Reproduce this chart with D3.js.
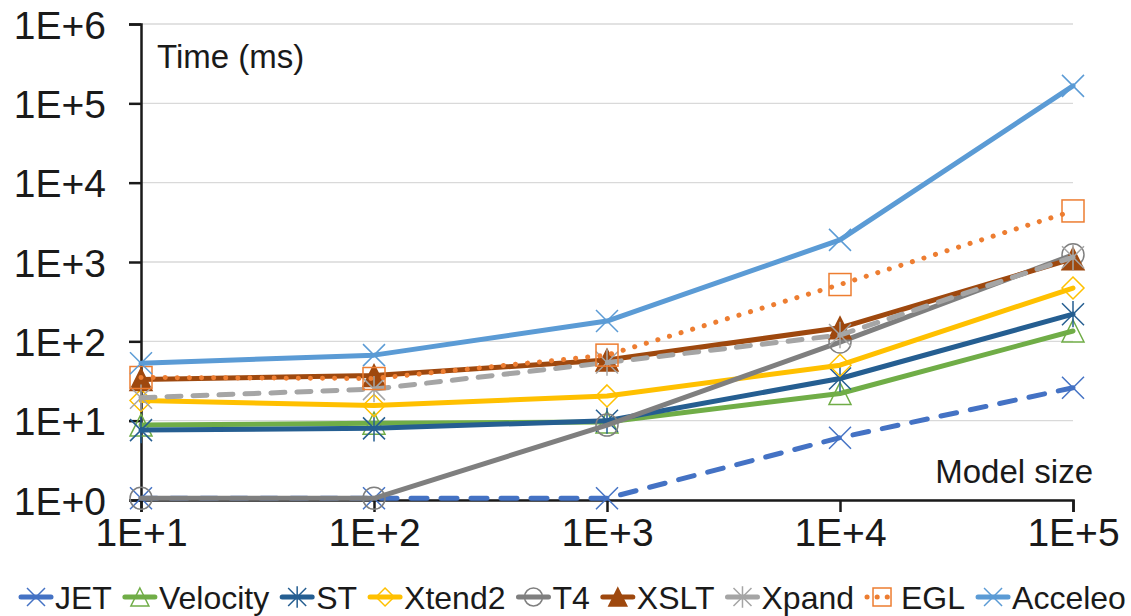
<!DOCTYPE html>
<html>
<head>
<meta charset="utf-8">
<script src="https://cdn.jsdelivr.net/npm/d3@7"></script>
<style>
  body { margin: 0; background: #fff; }
  text { font-family: "Liberation Sans", Arial, sans-serif; fill: #1a1a1a; }
</style>
</head>
<body>
<div id="chart"></div>
<script>
var svgWidth = 1131;
var svgHeight = 616;

// model sizes (x) and tick values
var modelSizes = [10, 100, 1000, 10000, 100000];
var yTicks = [1, 10, 100, 1000, 10000, 100000, 1000000];

// generation time in ms
var jet      = [1.05, 1.05, 1.05, 6.1, 26];
var velocity = [8.8, 9.3, 9.6, 22, 135];
var st       = [7.6, 8, 10, 34, 220];
var xtend2   = [18, 15.5, 20.5, 50, 470];
var t4       = [1.05, 1.05, 8.8, 98, 1230];
var xslt     = [33, 37, 58, 148, 1100];
var xpand    = [19.5, 25, 54, 120, 1150];
var egl      = [35, 34, 67, 520, 4400];
var acceleo  = [53, 67, 180, 1900, 166000];

var seriesNames = ["JET", "Velocity", "ST", "Xtend2", "T4", "XSLT", "Xpand", "EGL", "Acceleo"];
var seriesValues = [jet, velocity, st, xtend2, t4, xslt, xpand, egl, acceleo];

var styles = {
  "JET":      { color: "#4472C4", marker: "x",        dash: "16 14" },
  "Velocity": { color: "#70AD47", marker: "triangle", dash: null },
  "ST":       { color: "#255E91", marker: "star",     dash: null },
  "Xtend2":   { color: "#FFC000", marker: "diamond",  dash: null },
  "T4":       { color: "#7F7F7F", marker: "circle",   dash: null },
  "XSLT":     { color: "#9E480E", marker: "filledTri", dash: null },
  "Xpand":    { color: "#A5A5A5", marker: "star",     dash: "14 12" },
  "EGL":      { color: "#ED7D31", marker: "square",   dash: "0.1 12" },
  "Acceleo":  { color: "#5B9BD5", marker: "x",        dash: null }
};

var svg = d3.select("#chart").append("svg")
  .attr("width", svgWidth)
  .attr("height", svgHeight);

var x = d3.scaleLog().domain([10, 100000]).range([141, 1073]);
var y = d3.scaleLog().domain([1, 1000000]).range([500, 24]);

var expFormat = d => "1E+" + Math.round(Math.log10(d));

// gridlines
svg.append("g").selectAll("line")
  .data(yTicks)
  .enter().append("line")
  .attr("x1", 141).attr("x2", 1073)
  .attr("y1", d => y(d)).attr("y2", d => y(d))
  .attr("stroke", "#d9d9d9").attr("stroke-width", 1.3);

// axes
var yAxis = svg.append("g")
  .attr("transform", "translate(141,0)")
  .call(d3.axisLeft(y).tickValues(yTicks).tickFormat(expFormat).tickSize(12).tickPadding(23));
var xAxis = svg.append("g")
  .attr("transform", "translate(0,500)")
  .call(d3.axisBottom(x).tickValues(modelSizes).tickFormat(expFormat).tickSize(12).tickPadding(6));

[yAxis, xAxis].forEach(function(ax) {
  ax.select(".domain").attr("stroke", "#1a1a1a").attr("stroke-width", 2.5);
  ax.selectAll(".tick line").attr("stroke", "#1a1a1a").attr("stroke-width", 2.5);
  ax.selectAll("text").style("font-size", "39px").attr("fill", "#1a1a1a")
    .style("font-family", "'Liberation Sans', Arial, sans-serif");
});
yAxis.selectAll("text").attr("dy", "0.36em");

svg.append("text").attr("x", 157).attr("y", 68).style("font-size", "33px").text("Time (ms)");
svg.append("text").attr("x", 1093).attr("y", 483).attr("text-anchor", "end")
  .style("font-size", "33px").text("Model size");

// marker drawing
function drawMarker(g, type, color, r) {
  if (type === "x") {
    g.append("path").attr("d", `M${-r},${-r}L${r},${r}M${-r},${r}L${r},${-r}`)
      .attr("stroke", color).attr("stroke-width", 1.5).attr("fill", "none");
  } else if (type === "star") {
    g.append("path").attr("d", `M${-r},${-r}L${r},${r}M${-r},${r}L${r},${-r}M0,${-r * 1.2}L0,${r * 1.2}`)
      .attr("stroke", color).attr("stroke-width", 1.5).attr("fill", "none");
  } else if (type === "triangle" || type === "filledTri") {
    g.append("path").attr("d", `M0,${-r}L${r},${r}L${-r},${r}Z`)
      .attr("stroke", color).attr("stroke-width", 1.5)
      .attr("fill", type === "filledTri" ? color : "none");
  } else if (type === "diamond") {
    g.append("path").attr("d", `M0,${-r}L${r},0L0,${r}L${-r},0Z`)
      .attr("stroke", color).attr("stroke-width", 1.5).attr("fill", "none");
  } else if (type === "circle") {
    g.append("circle").attr("r", r).attr("stroke", color).attr("stroke-width", 1.5).attr("fill", "none");
  } else if (type === "square") {
    g.append("rect").attr("x", -r).attr("y", -r).attr("width", 2 * r).attr("height", 2 * r)
      .attr("stroke", color).attr("stroke-width", 1.5).attr("fill", "none");
  }
}

var line = d3.line()
  .x((d, i) => x(modelSizes[i]))
  .y(d => y(d));

seriesNames.forEach(function(name, si) {
  var st = styles[name];
  var g = svg.append("g").attr("class", "series");
  g.append("path")
    .attr("d", line(seriesValues[si]))
    .attr("fill", "none")
    .attr("stroke", st.color)
    .attr("stroke-width", 5)
    .attr("stroke-linecap", "round")
    .attr("stroke-linejoin", "round")
    .attr("stroke-dasharray", st.dash);
  seriesValues[si].forEach(function(v, i) {
    var m = g.append("g").attr("transform", `translate(${x(modelSizes[i])},${y(v)})`);
    drawMarker(m, st.marker, st.color, 11);
  });
});

// legend
var legend = svg.append("g").attr("transform", "translate(0,597)");
var cursor = 19;
seriesNames.forEach(function(name) {
  var st = styles[name];
  var item = legend.append("g").attr("transform", `translate(${cursor},0)`);
  item.append("line").attr("x1", 2).attr("x2", 32).attr("y1", 0).attr("y2", 0)
    .attr("stroke", st.color).attr("stroke-width", 5).attr("stroke-linecap", "round")
    .attr("stroke-dasharray", name === "EGL" ? "0.1 10" : null);
  drawMarker(item.append("g").attr("transform", "translate(17,0)"), st.marker, st.color, 9);
  var t = item.append("text").attr("x", 36).attr("y", 12).style("font-size", "32px").text(name);
  cursor += 36 + t.node().getComputedTextLength() + 11;
});
</script>
</body>
</html>
